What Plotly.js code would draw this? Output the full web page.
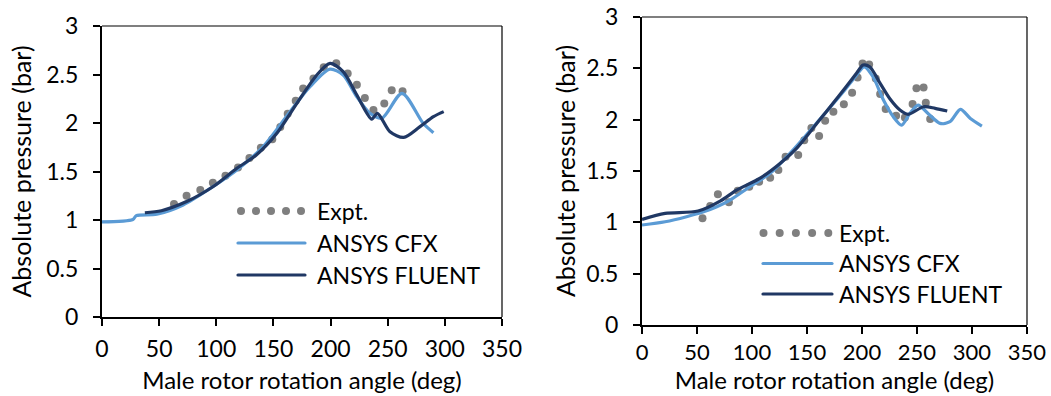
<!DOCTYPE html>
<html>
<head>
<meta charset="utf-8">
<script src="https://cdn.plot.ly/plotly-3.0.1.min.js"></script>
<style>html,body{margin:0;padding:0;background:#fff;}#chart{width:1051px;height:396px;}</style>
</head>
<body>
<div id="chart"></div>
<script>
// ---- Left chart data ----
const leftExptAngle = [63, 74, 86, 97, 108, 119, 129, 139, 149, 156, 162.5, 169.5, 176, 185, 194, 205, 215, 223, 230, 237.5, 247, 253.5, 263];
const leftExptP     = [1.165, 1.25, 1.31, 1.385, 1.455, 1.54, 1.64, 1.745, 1.832, 1.96, 2.095, 2.23, 2.355, 2.46, 2.575, 2.615, 2.51, 2.395, 2.258, 2.134, 2.2, 2.338, 2.328];
const leftCfxAngle  = [0, 27, 30, 48, 71, 97, 118, 141, 164.5, 182, 199.5, 211, 223, 234.5, 245, 262.5, 281, 290];
const leftCfxP      = [0.98, 1.005, 1.045, 1.06, 1.155, 1.343, 1.515, 1.756, 2.117, 2.374, 2.555, 2.495, 2.27, 2.10, 2.05, 2.306, 1.997, 1.90];
const leftFluAngle  = [37.5, 52, 74, 97, 118, 135, 153, 170.5, 188, 199.5, 211, 223, 236, 241, 252, 264, 278, 290, 299];
const leftFluP      = [1.075, 1.096, 1.19, 1.343, 1.533, 1.67, 1.894, 2.203, 2.495, 2.615, 2.529, 2.289, 2.04, 2.10, 1.91, 1.852, 1.96, 2.065, 2.117];

// ---- Right chart data ----
const rightExptAngle = [55, 62, 69, 79, 87, 97.5, 106.5, 116.5, 124, 130.5, 142, 147.5, 154, 161, 166.5, 174, 183.5, 191, 196, 200.5, 206.5, 212.5, 216.5, 221.5, 231, 239, 246, 249.5, 256, 258, 262];
const rightExptP     = [1.04, 1.16, 1.273, 1.195, 1.308, 1.347, 1.395, 1.434, 1.509, 1.639, 1.655, 1.80, 1.92, 1.84, 1.99, 2.077, 2.149, 2.262, 2.41, 2.548, 2.538, 2.40, 2.25, 2.103, 2.038, 2.02, 2.152, 2.305, 2.314, 2.165, 2.006];
const rightCfxAngle  = [0, 21, 40.5, 56, 68, 80, 98, 116.5, 134.5, 148, 165, 183, 195, 202, 210, 219.5, 228.5, 236, 243.5, 251, 260, 271, 280, 289.5, 298.5, 309];
const rightCfxP      = [0.974, 1.006, 1.055, 1.103, 1.152, 1.217, 1.347, 1.477, 1.672, 1.834, 2.045, 2.272, 2.434, 2.515, 2.418, 2.191, 2.028, 1.947, 2.061, 2.142, 2.061, 1.964, 1.98, 2.10, 2.012, 1.938];
const rightFluAngle  = [0, 21, 51, 71, 86, 107, 125.5, 140.5, 159, 180, 195, 201, 207, 216.5, 225.5, 234.5, 242, 256, 266.5, 277.5];
const rightFluP      = [1.029, 1.087, 1.11, 1.207, 1.314, 1.428, 1.574, 1.72, 1.964, 2.246, 2.451, 2.532, 2.515, 2.353, 2.201, 2.094, 2.052, 2.126, 2.11, 2.084];

// ---- Labels ----
const seriesNames = ['Expt.', 'ANSYS CFX', 'ANSYS FLUENT'];
const xTitle = 'Male rotor rotation angle (deg)';
const yTitle = 'Absolute pressure (bar)';

const FONT = 'Lato, "Open Sans", sans-serif';
const GRAY = '#7f7f7f', LBLUE = '#5b9bd5', NAVY = '#203864';

function traces(xa, ya, leg, ex, ey, cx, cy, fx, fy) {
  return [
    {x: ex, y: ey, xaxis: xa, yaxis: ya, legend: leg, name: seriesNames[0], mode: 'markers', type: 'scatter',
     marker: {color: GRAY, size: 8}},
    {x: cx, y: cy, xaxis: xa, yaxis: ya, legend: leg, name: seriesNames[1], mode: 'lines', type: 'scatter',
     line: {color: LBLUE, width: 3.2, shape: 'spline', smoothing: 0.8}},
    {x: fx, y: fy, xaxis: xa, yaxis: ya, legend: leg, name: seriesNames[2], mode: 'lines', type: 'scatter',
     line: {color: NAVY, width: 3.2, shape: 'spline', smoothing: 0.8}}
  ];
}

const data = [].concat(
  traces('x', 'y', 'legend', leftExptAngle, leftExptP, leftCfxAngle, leftCfxP, leftFluAngle, leftFluP),
  traces('x2', 'y2', 'legend2', rightExptAngle, rightExptP, rightCfxAngle, rightCfxP, rightFluAngle, rightFluP)
);

function xaxis(domain, anchor, lstand, tstand, tsize) {
  return {domain: domain, anchor: anchor, range: [0, 350], dtick: 50, tick0: 0,
    showgrid: false, zeroline: false, showline: true, linecolor: '#000', linewidth: 2,
    ticks: 'outside', ticklen: 7, tickwidth: 2, tickcolor: '#000', ticklabelstandoff: lstand,
    tickfont: {family: FONT, size: tsize, color: '#000'}, automargin: false,
    title: {text: xTitle, font: {family: FONT, size: 24, color: '#000'}, standoff: tstand}};
}
function yaxis(domain, anchor, tstand) {
  return {domain: domain, anchor: anchor, range: [0, 3], dtick: 0.5, tick0: 0,
    showgrid: false, zeroline: false, showline: true, linecolor: '#000', linewidth: 2,
    ticks: 'outside', ticklen: 7, tickwidth: 2, tickcolor: '#000', ticklabelstandoff: 10,
    tickfont: {family: FONT, size: 23, color: '#000'}, automargin: false,
    title: {text: yTitle, font: {family: FONT, size: 25, color: '#000'}, standoff: tstand}};
}

const legStyle = {font: {family: FONT, size: 23, color: '#000'}, bgcolor: 'rgba(0,0,0,0)',
  xanchor: 'left', yanchor: 'top', tracegroupgap: 0};

const layout = {
  width: 1051, height: 396,
  margin: {l: 0, r: 0, t: 0, b: 0},
  paper_bgcolor: '#fff', plot_bgcolor: '#fff',
  showlegend: true,
  xaxis: xaxis([0.09705, 0.47764], 'y', 3, 12, 23),
  yaxis: yaxis([0.19949, 0.93434], 'x', 8),
  xaxis2: xaxis([0.61085, 0.97716], 'y2', 0, 6, 22),
  yaxis2: yaxis([0.17929, 0.95707], 'x2', 4),
  legend: Object.assign({x: 0.2217, y: 0.505, itemwidth: 74}, legStyle),
  legend2: Object.assign({x: 0.7212, y: 0.445, itemwidth: 71}, legStyle),
  shapes: [
    {type: 'line', xref: 'x domain', yref: 'y domain', x0: 0, x1: 1, y0: 1, y1: 1, line: {color: '#000', width: 1.2}},
    {type: 'line', xref: 'x domain', yref: 'y domain', x0: 1, x1: 1, y0: 0, y1: 1, line: {color: '#000', width: 1.2}},
    {type: 'line', xref: 'x2 domain', yref: 'y2 domain', x0: 0, x1: 1, y0: 1, y1: 1, line: {color: '#000', width: 1.2}},
    {type: 'line', xref: 'x2 domain', yref: 'y2 domain', x0: 1, x1: 1, y0: 0, y1: 1, line: {color: '#000', width: 1.2}}
  ]
};

// Legend glyph styling (Excel-like: long line samples, a row of dots for the experiment series)
const legendLook = [
  {sel: 'g.legend',  x0: 233, rows: [211, 243, 275],   lineLen: 67, dotStart: 8,   dotStep: 15},
  {sel: 'g.legend2', x0: 758, rows: [233, 263.5, 294], lineLen: 69, dotStart: 5.5, dotStep: 16.2}
];

function styleLegends() {
  legendLook.forEach(L => {
    const g = document.querySelector('#chart ' + L.sel);
    if (!g) return;
    const sb = g.querySelector('.scrollbox');
    if (sb) sb.removeAttribute('clip-path');
    g.querySelectorAll('g.traces').forEach((it, i) => {
      const m = /translate\(\s*([-\d.e]+)[ ,]+([-\d.e]+)\s*\)/.exec(it.getAttribute('transform') || '');
      const tx = m ? parseFloat(m[1]) : 0, ty = m ? parseFloat(m[2]) : 0;
      const ctm = it.getCTM();
      const nx = tx + (L.x0 - ctm.e), ny = ty + (L.rows[i] - ctm.f);
      it.setAttribute('transform', 'translate(' + nx + ',' + ny + ')');
      it.querySelectorAll('path.js-line').forEach(p => {
        p.setAttribute('d', 'M5,0h' + L.lineLen);
        p.style.strokeLinecap = 'round';
      });
      const pts = it.querySelectorAll('path.scatterpts');
      if (pts.length) {
        const p = pts[0];
        p.setAttribute('transform', 'translate(' + L.dotStart + ',0)');
        for (let k = 1; k < 5; k++) {
          const c = p.cloneNode(true);
          c.setAttribute('transform', 'translate(' + (L.dotStart + k * L.dotStep) + ',0)');
          p.parentNode.appendChild(c);
        }
      }
    });
  });
}

Plotly.newPlot('chart', data, layout, {displayModeBar: false, staticPlot: true}).then(styleLegends);
</script>
</body>
</html>
